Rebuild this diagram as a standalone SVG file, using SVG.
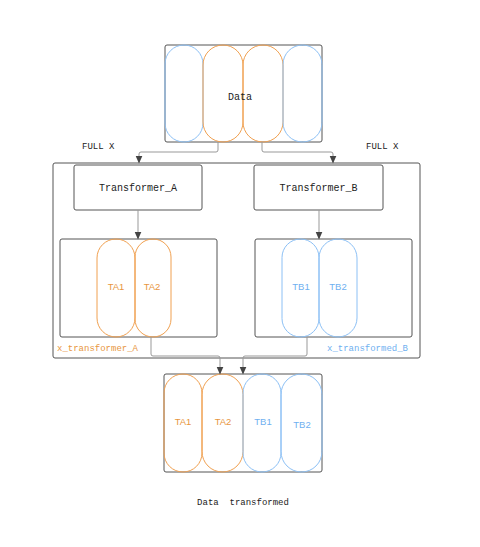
<svg xmlns="http://www.w3.org/2000/svg" width="480" height="547" viewBox="0 0 480 547">
<defs>
<style>
.box{fill:none;stroke:#555;stroke-width:1}
.pillO{fill:none;stroke:#f0a050;stroke-width:1}
.pillB{fill:none;stroke:#8cc0f5;stroke-width:1}
.mono{font-family:"Liberation Mono","DejaVu Sans Mono",monospace;fill:#222}
.sans{font-family:"Liberation Sans",Arial,sans-serif;font-size:9.5px}
.to{fill:#e8963e}
.tb{fill:#6fb0f0}
.conn{fill:none;stroke:#999;stroke-width:1}
</style>
<marker id="arr" viewBox="0 0 8 8" refX="7" refY="4" markerWidth="8" markerHeight="8" orient="auto" markerUnits="userSpaceOnUse">
<path d="M0,0.5 L8,4 L0,7.5 z" fill="#444"/>
</marker>
</defs>
<rect width="480" height="547" fill="#fff"/>

<g id="data">
<rect class="box" x="165" y="45" width="157" height="97" rx="2"/>
<rect class="pillB" x="165" y="45" width="38" height="97" rx="19"/>
<rect class="pillO" x="203" y="45" width="40" height="97" rx="20"/>
<rect class="pillO" x="243" y="45" width="40" height="97" rx="20"/>
<rect class="pillB" x="283" y="45" width="39" height="97" rx="19.5"/>
<text class="mono" x="240" y="100" font-size="10" text-anchor="middle">Data</text>
</g>

<g id="labels">
<text class="mono" x="82" y="149" font-size="9">FULL X</text>
<text class="mono" x="366" y="149" font-size="9">FULL X</text>
</g>

<g id="container">
<rect class="box" x="53" y="163" width="367" height="195" rx="2"/>
</g>

<g id="transformer_a">
<rect class="box" x="74" y="165" width="128" height="45" rx="2"/>
<text class="mono" x="138" y="191" font-size="10" text-anchor="middle">Transformer_A</text>
</g>

<g id="transformer_b">
<rect class="box" x="254" y="165" width="129" height="45" rx="2"/>
<text class="mono" x="318.5" y="191" font-size="10" text-anchor="middle">Transformer_B</text>
</g>

<g id="x_transformer_a">
<rect class="box" x="60" y="239" width="157" height="98" rx="2"/>
<rect class="pillO" x="97" y="239" width="38" height="98" rx="19"/>
<rect class="pillO" x="135" y="239" width="36" height="98" rx="18"/>
<text class="sans to" x="116" y="290" text-anchor="middle">TA1</text>
<text class="sans to" x="152" y="290" text-anchor="middle">TA2</text>
<text class="mono to" x="57" y="351" font-size="9">x_transformer_A</text>
</g>

<g id="x_transformed_b">
<rect class="box" x="255" y="239" width="157" height="98" rx="2"/>
<rect class="pillB" x="282" y="239" width="37" height="98" rx="18.5"/>
<rect class="pillB" x="319" y="239" width="38" height="98" rx="19"/>
<text class="sans tb" x="301" y="290" text-anchor="middle">TB1</text>
<text class="sans tb" x="338" y="290" text-anchor="middle">TB2</text>
<text class="mono tb" x="408" y="351" font-size="9" text-anchor="end">x_transformed_B</text>
</g>

<g id="data_transformed">
<rect class="box" x="164" y="374" width="158" height="98" rx="2"/>
<rect class="pillO" x="164" y="374" width="38" height="98" rx="19"/>
<rect class="pillO" x="202" y="374" width="41" height="98" rx="20.5"/>
<rect class="pillB" x="243" y="374" width="38" height="98" rx="19"/>
<rect class="pillB" x="281" y="374" width="41" height="98" rx="20.5"/>
<text class="sans to" x="183" y="425" text-anchor="middle">TA1</text>
<text class="sans to" x="223" y="425" text-anchor="middle">TA2</text>
<text class="sans tb" x="263" y="425" text-anchor="middle">TB1</text>
<text class="sans tb" x="302" y="428" text-anchor="middle">TB2</text>
<text class="mono" x="243" y="505" font-size="9" text-anchor="middle" xml:space="preserve">Data  transformed</text>
</g>

<g id="connectors">
<path class="conn" d="M218,142 V150 Q218,152 216,152 H141 Q139,152 139,154 V162.5" marker-end="url(#arr)"/>
<path class="conn" d="M262,142 V150 Q262,152 264,152 H331 Q333,152 333,154 V162.5" marker-end="url(#arr)"/>
<path class="conn" d="M138,210 V238.5" marker-end="url(#arr)"/>
<path class="conn" d="M319,210 V238.5" marker-end="url(#arr)"/>
<path class="conn" d="M151,337 V354 Q151,356 153,356 H218 Q220,356 220,358 V373.5" marker-end="url(#arr)"/>
<path class="conn" d="M307,337 V354 Q307,356 305,356 H245 Q243,356 243,358 V373.5" marker-end="url(#arr)"/>
</g>
</svg>
